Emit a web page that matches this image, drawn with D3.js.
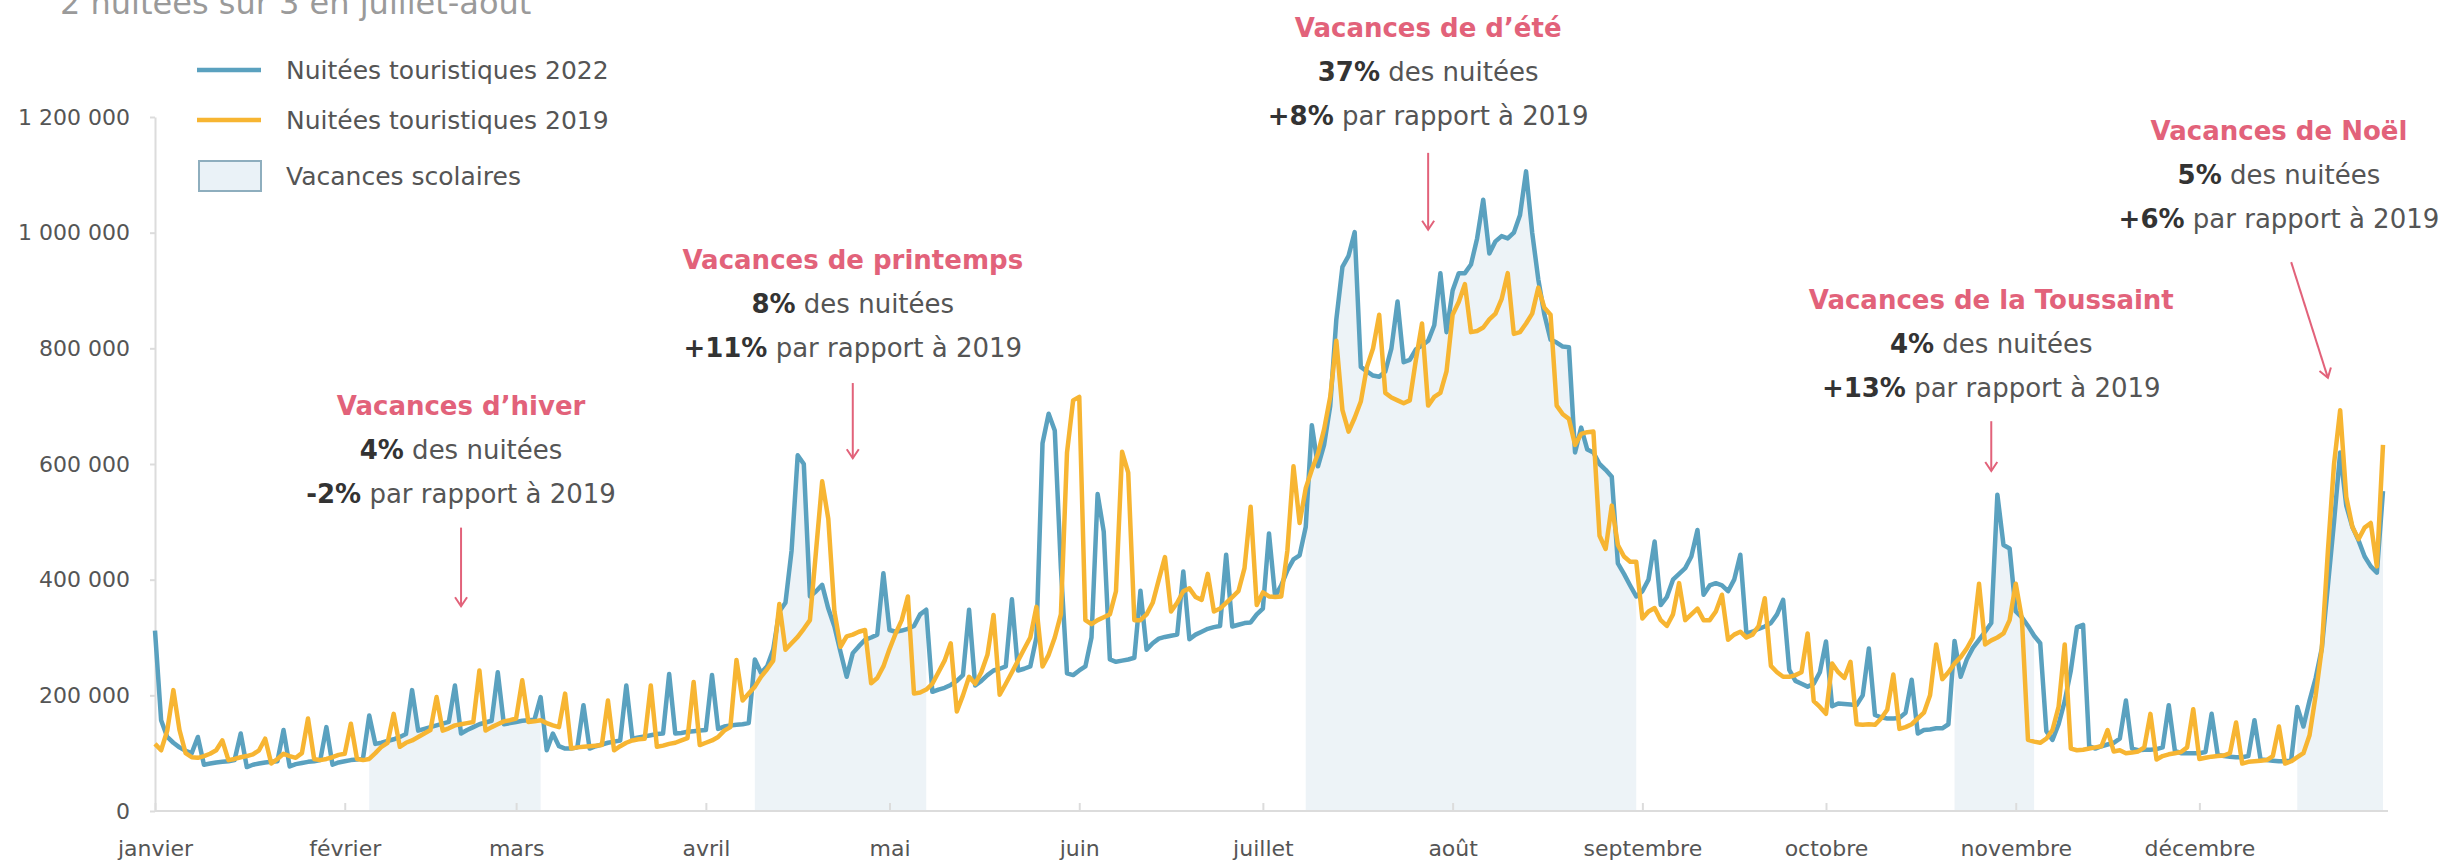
<!DOCTYPE html>
<html lang="fr">
<head>
<meta charset="utf-8">
<script src="https://cdn.jsdelivr.net/npm/d3@7"></script>
<style>
  body { margin: 0; background: #fff; }
  svg { display: block; }
  text { font-family: "DejaVu Sans", Verdana, sans-serif; }
</style>
</head>
<body>
<svg id="chart"></svg>
<script>
"use strict";

// == DATA ==
var months = ["janvier", "février", "mars", "avril", "mai", "juin", "juillet",
  "août", "septembre", "octobre", "novembre", "décembre"];
var yTicks = [0, 200000, 400000, 600000, 800000, 1000000, 1200000];

// nuitées touristiques par jour (en milliers), du 1er janvier au 31 décembre
// one value per day
var nuitees2022 = [
  // janvier
  312,157,128,118,110,104,100, 128,80,82,84,85,86,88, 134,76,80,82,84,85,86,
  140,77,81,83,85,86,88, 145,80,84,
  // février
  86,88,89,92, 165,116,118,121,124,128,133, 209,139,142,145,148,151,154,
  217,134,140,145,150,153,156, 240,150,152,
  // mars
  154,156,157,158, 197,105,134,112,108,108,110, 183,108,112,115,118,120,122,
  217,125,127,129,131,133,134, 237,134,135,137,138,139,
  // avril
  140, 235,142,146,148,149,150,152, 262,239,250,279,345,360,450,
  615,600,371,380,391,350,319, 275,232,273,285,296,300,305, 411,
  // mai
  313,310,312,315,320,340,348, 206,210,213,218,225,235,348, 217,225,235,243,246,250,366,
  243,246,250,300,636,687,658, 420,238,235,
  // juin
  243,250,300,548,483,262,258, 260,262,265,381,279,290,298, 301,303,305,414,297,305,310,
  315,318,320,443,319,322,325, 326,340,
  // juillet
  350,480,371,390,416,435,442, 491,667,596,633,700,850,941, 960,1001,768,760,753,751,760,
  800,881,776,780,798,805,813, 840,930,828,
  // août
  900,930,930,945,990,1057,964, 985,994,990,1000,1030,1106,1000, 919,858,815,810,803,802,620,
  663,625,620,600,590,578,428, 410,390,371,
  // septembre
  380,400,466,356,370,400,410, 420,440,486,374,390,394,390, 380,400,443,307,310,315,319,
  325,340,365,244,225,220,215, 220,240,
  // octobre
  293,181,186,185,184,183,200, 281,166,162,160,160,161,170, 227,134,140,141,143,143,150,
  294,232,262,282,296,310,325, 547,460,454,
  // novembre
  345,335,320,303,290,138,123, 150,190,243,318,322,112,108, 112,115,118,125,191,108,105,
  106,106,107,110,183,104,100, 100,100,
  // décembre
  100,102,168,97,95,94,93, 93,95,157,89,88,87,86, 86,88,180,146,191,230,281,
  390,500,620,528,491,468,440, 423,412,553
];

var nuitees2019 = [
  // janvier
  116,105,139,209,140,100,93, 92,95,99,105,122,88,90, 93,95,98,105,125,82,90,
  99,95,92,100,160,90,88, 90,93,97,
  // février
  99,151,90,88,90,100,111, 118,168,111,118,122,128,134, 140,197,139,143,148,150,152,
  154,243,139,145,150,155,157,
  // mars
  160,226,154,155,157,152,148, 145,203,108,110,111,112,113, 114,191,105,112,118,122,124,
  125,217,111,113,116,118,122, 126,223,114,
  // avril
  118,122,128,139,145,261,191, 203,215,232,245,260,358,279, 290,301,315,330,450,570,505,
  345,284,302,305,310,313,221, 230,250,
  // mai
  280,307,330,371,203,205,210, 220,240,260,290,172,200,232, 220,240,270,339,201,220,240,
  260,280,300,353,250,270,300, 340,620,710,
  // juin
  716,330,323,330,335,340,380, 621,585,330,330,340,360,400, 439,345,360,380,385,370,365,
  410,345,350,360,370,380,420, 526,356,
  // juillet
  378,371,370,371,450,596,498, 558,590,618,660,716,813,693, 656,680,708,768,800,858,723,
  715,710,705,710,780,843,701, 716,723,760,
  // août
  858,880,911,828,830,836,850, 860,885,930,825,828,843,860, 905,870,858,701,686,678,633,
  652,655,656,476,453,528,460, 440,431,431,
  // septembre
  333,345,351,330,320,340,394, 330,340,350,330,330,345,374, 296,305,310,300,305,320,368,
  251,240,232,232,235,240,307, 190,180,
  // octobre
  168,255,240,230,258,150,149, 150,149,160,175,236,142,145, 150,160,170,200,288,228,240,
  255,266,281,300,393,288,295, 300,307,330,
  // novembre
  393,333,123,120,118,125,140, 180,288,108,105,106,108,110, 112,140,103,105,100,101,103,
  110,168,89,95,98,100,102, 110,176,
  // décembre
  90,92,94,95,96,100,153, 82,85,86,87,88,95,146, 82,86,93,100,131,200,281,
  450,600,693,543,491,470,490, 498,423,633
];

// vacances scolaires 2022 (toutes zones confondues)
var vacances = [
  ["2022-02-05", "2022-03-05"],
  ["2022-04-09", "2022-05-07"],
  ["2022-07-08", "2022-08-31"],
  ["2022-10-22", "2022-11-04"],
  ["2022-12-17", "2022-12-31"]
];

var annotations = [
  { title: "Vacances d\u2019hiver", part: "4%", evol: "-2%" },
  { title: "Vacances de printemps", part: "8%", evol: "+11%" },
  { title: "Vacances de d\u2019été", part: "37%", evol: "+8%" },
  { title: "Vacances de la Toussaint", part: "4%", evol: "+13%" },
  { title: "Vacances de Noël", part: "5%", evol: "+6%" }
];

// == LAYOUT ==
var W = 2450, H = 861;
var blue = "#5aa1bf", orange = "#f7b532", shade = "#edf3f7", pink = "#e2627a";

// where each annotation sits: text centre date, title level (value) and arrow (date, value)
var annLayout = [
  { at: "2022-02-20", top: 685000, from: ["2022-02-20", 490000], to: ["2022-02-20", 354000] },
  { at: "2022-04-25", top: 937000, from: ["2022-04-25", 740000], to: ["2022-04-25", 610000] },
  { at: "2022-07-28", top: 1338000, from: ["2022-07-28", 1138000], to: ["2022-07-28", 1005000] },
  { at: "2022-10-28", top: 868000, from: ["2022-10-28", 674000], to: ["2022-10-28", 588000] },
  { at: "2022-12-14", top: 1160000, from: ["2022-12-16", 949000], to: ["2022-12-22", 749000] }
];

var day0 = Date.UTC(2022, 0, 1);
var parse = d3.utcParse("%Y-%m-%d");
function dayDate(i) { return new Date(day0 + i * 864e5); }

var rows = nuitees2022.map(function (v, i) {
  return { date: dayDate(i), v22: v * 1000, v19: nuitees2019[i] * 1000 };
});

var svg = d3.select("#chart").attr("width", W).attr("height", H);

var x = d3.scaleUtc()
  .domain([dayDate(0), dayDate(364)])
  .range([155, 2383]);
var y = d3.scaleLinear()
  .domain([0, 1200000])
  .range([811, 117]);

// == SHADED HOLIDAYS ==
var area = d3.area()
  .x(function (d) { return x(d.date); })
  .y0(y(0))
  .y1(function (d) { return y(d.v22); });

svg.append("g").selectAll("path")
  .data(vacances)
  .enter().append("path")
  .attr("fill", shade)
  .attr("d", function (p) {
    var a = parse(p[0]), b = parse(p[1]);
    return area(rows.filter(function (d) { return d.date >= a && d.date <= b; }));
  });

// == AXES ==
var fr = d3.formatLocale({ decimal: ",", thousands: " ", grouping: [3], currency: ["", " €"] });

var yAxis = d3.axisLeft(y)
  .tickValues(yTicks)
  .tickSize(5)
  .tickSizeOuter(0)
  .tickPadding(20)
  .tickFormat(fr.format(",d"));

var gy = svg.append("g").attr("transform", "translate(155,0)").call(yAxis);
gy.select(".domain").attr("stroke", "#dcdcdc").attr("stroke-width", 2);
gy.selectAll(".tick line").attr("stroke", "#dcdcdc").attr("stroke-width", 2);
gy.selectAll(".tick text")
  .attr("fill", "#555")
  .style("font-size", "22px");

var xAxis = d3.axisBottom(x)
  .tickValues(d3.utcMonth.range(dayDate(0), dayDate(365)))
  .tickSizeInner(-8)
  .tickSizeOuter(0)
  .tickPadding(29)
  .tickFormat(function (d) { return months[d.getUTCMonth()]; });

var gx = svg.append("g").attr("transform", "translate(0,811)").call(xAxis);
gx.select(".domain").attr("stroke", "#dcdcdc").attr("stroke-width", 2)
  .attr("d", "M155,0H2388");
gx.selectAll(".tick line").attr("stroke", "#dcdcdc").attr("stroke-width", 2);
gx.selectAll(".tick text")
  .attr("fill", "#555")
  .style("font-size", "22px");

// == LINES ==
var line22 = d3.line()
  .x(function (d) { return x(d.date); })
  .y(function (d) { return y(d.v22); });
var line19 = d3.line()
  .x(function (d) { return x(d.date); })
  .y(function (d) { return y(d.v19); });

svg.append("path")
  .datum(rows)
  .attr("fill", "none")
  .attr("stroke", blue)
  .attr("stroke-width", 4.5)
  .attr("stroke-linejoin", "round")
  .attr("d", line22);

svg.append("path")
  .datum(rows)
  .attr("fill", "none")
  .attr("stroke", orange)
  .attr("stroke-width", 4.5)
  .attr("stroke-linejoin", "round")
  .attr("d", line19);

// == LEGEND ==
var legend = svg.append("g");
var legItems = [
  { label: "Nuitées touristiques 2022", kind: "line", color: blue, cy: 70 },
  { label: "Nuitées touristiques 2019", kind: "line", color: orange, cy: 120 },
  { label: "Vacances scolaires", kind: "rect", cy: 176 }
];
legItems.forEach(function (it) {
  if (it.kind === "line") {
    legend.append("line")
      .attr("x1", 197).attr("x2", 261)
      .attr("y1", it.cy).attr("y2", it.cy)
      .attr("stroke", it.color).attr("stroke-width", 4.5);
  } else {
    legend.append("rect")
      .attr("x", 199).attr("y", it.cy - 15)
      .attr("width", 62).attr("height", 30)
      .attr("fill", "#eaf2f7")
      .attr("stroke", "#8eaebe").attr("stroke-width", 2);
  }
  legend.append("text")
    .attr("x", 286).attr("y", it.cy + 9)
    .attr("fill", "#555")
    .style("font-size", "25px")
    .text(it.label);
});

// cropped subtitle at the very top (the reference cuts it off too)
svg.append("text")
  .attr("x", 60).attr("y", 14)
  .attr("fill", "#9a9a9a")
  .style("font-size", "32px")
  .text("2 nuitées sur 3 en juillet-août");

// == ANNOTATIONS ==
annotations.forEach(function (a, i) {
  var L = annLayout[i];
  var cx = x(parse(L.at));
  var ty = y(L.top);
  var g = svg.append("g").attr("text-anchor", "middle").style("font-size", "26px");

  g.append("text")
    .attr("x", cx).attr("y", ty)
    .attr("fill", pink)
    .attr("font-weight", "bold")
    .text(a.title);

  var t2 = g.append("text").attr("x", cx).attr("y", ty + 44);
  t2.append("tspan").attr("font-weight", "bold").attr("fill", "#333").text(a.part);
  t2.append("tspan").attr("fill", "#555").text(" des nuitées");

  var t3 = g.append("text").attr("x", cx).attr("y", ty + 88);
  t3.append("tspan").attr("font-weight", "bold").attr("fill", "#333").text(a.evol);
  t3.append("tspan").attr("fill", "#555").text(" par rapport à 2019");

  var x1 = x(parse(L.from[0])), y1 = y(L.from[1]);
  var x2 = x(parse(L.to[0])), y2 = y(L.to[1]);
  var ang = Math.atan2(y2 - y1, x2 - x1) * 180 / Math.PI - 90;
  svg.append("line")
    .attr("x1", x1).attr("y1", y1)
    .attr("x2", x2).attr("y2", y2)
    .attr("stroke", pink).attr("stroke-width", 2);
  svg.append("path")
    .attr("d", "M-6,-9L0,0L6,-9")
    .attr("fill", "none")
    .attr("stroke", pink).attr("stroke-width", 2)
    .attr("transform", "translate(" + x2 + "," + y2 + ") rotate(" + ang + ")");
});
</script>
</body>
</html>
